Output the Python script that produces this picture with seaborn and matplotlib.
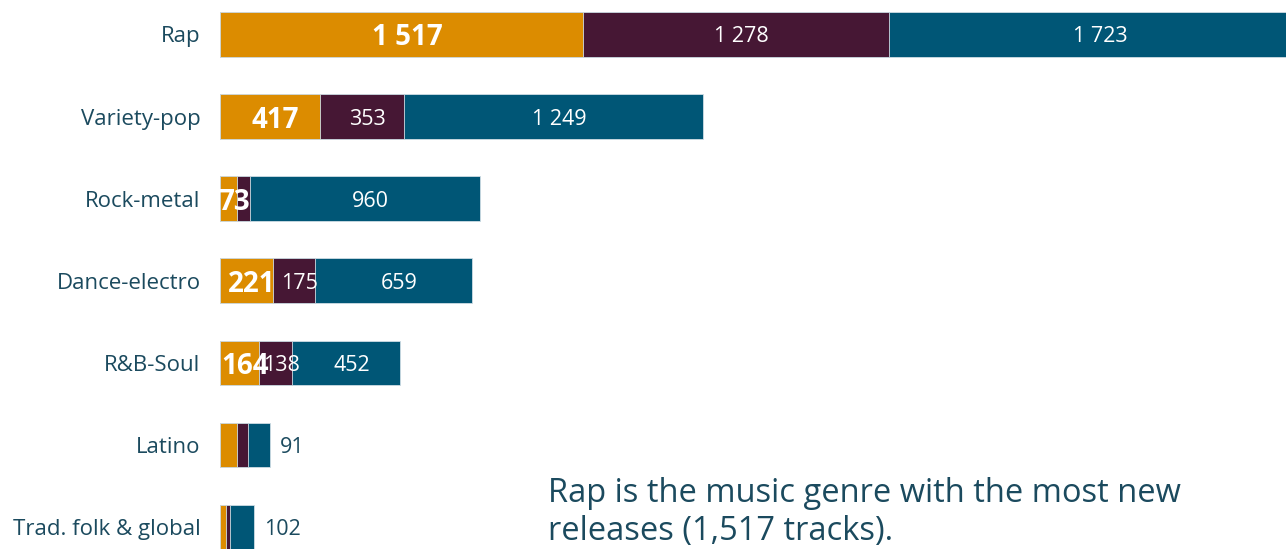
import matplotlib
matplotlib.use("Agg")
import matplotlib.pyplot as plt
import pandas as pd
import seaborn as sns

# values (tracks per genre, three stacked groups)
genres = ["Rap", "Variety-pop", "Rock-metal", "Dance-electro", "R&B-Soul", "Latino", "Trad. folk & global"]
group_1 = [1517, 417, 73, 221, 164, 70, 25]
group_2 = [1278, 353, 53, 175, 138, 47, 16]
group_3 = [1723, 1249, 960, 659, 452, 91, 102]

labels_1 = ["1 517", "417", "73", "221", "164", "", ""]
labels_2 = ["1 278", "353", "", "175", "138", "", ""]
labels_3 = ["1 723", "1 249", "960", "659", "452", "91", "102"]
outside_3 = [False, False, False, False, False, True, True]

note_lines = ["Rap is the music genre with the most new", "releases (1,517 tracks)."]

ORANGE = "#DC8C00"
PURPLE = "#461734"
TEAL = "#005676"
TEXT = "#1B4A5E"

df = pd.DataFrame({"genre": genres, "g1": group_1, "g2": group_2, "g3": group_3})
df["c2"] = df["g1"] + df["g2"]
df["c3"] = df["c2"] + df["g3"]

sns.set_style("white")
plt.rcParams["font.family"] = ["Open Sans", "DejaVu Sans"]

fig = plt.figure(figsize=(12.86, 5.49), dpi=100)
ax = fig.add_axes([220 / 1286, 0, 1 - 220 / 1286, 1])

for col, color in [("c3", TEAL), ("c2", PURPLE), ("g1", ORANGE)]:
    sns.barplot(data=df, y="genre", x=col, color=color, orient="h", width=0.54,
                saturation=1, errorbar=None, edgecolor="#cfdde4", linewidth=0.6, ax=ax)

def seg_label(x, y, s, **kw):
    # labels in the reference sit a few pixels right of the segment centre
    ax.annotate(s, (x, y), xytext=(4, 0), textcoords="offset points",
                ha="center", va="center_baseline", color="white", **kw)

for i in range(len(genres)):
    a, b, c = group_1[i], group_2[i], group_3[i]
    if labels_2[i]:
        seg_label(a + b / 2, i, labels_2[i], fontsize=15.5, zorder=5)
    if labels_1[i]:
        # bold orange labels are drawn last, on top (as in the original slide)
        if a < 100:
            ax.annotate(labels_1[i], (0, i), xytext=(-1, 0), textcoords="offset points",
                        ha="left", va="center_baseline", color="white",
                        fontsize=20, fontweight="bold", zorder=6)
        else:
            seg_label(a / 2, i, labels_1[i], fontsize=20, fontweight="bold", zorder=6)
    if outside_3[i]:
        ax.annotate(labels_3[i], (a + b + c, i), xytext=(7, 0), textcoords="offset points",
                    ha="left", va="center_baseline", color=TEXT, fontsize=15.5)
    else:
        seg_label(a + b + c / 2, i, labels_3[i], fontsize=15.5)

ax.set_xlim(0, 4455)
ax.set_ylim(6.27, -0.42)
ax.set_xlabel("")
ax.set_ylabel("")
ax.set_xticks([])
ax.tick_params(axis="y", length=0, pad=14, labelsize=16, labelcolor=TEXT)
sns.despine(ax=ax, left=True, bottom=True)

for k, line in enumerate(note_lines):
    fig.text(548 / 1286, 1 - (502 + 38 * k) / 549, line, ha="left", va="baseline",
             color=TEXT, fontsize=23.5)

fig.savefig("out.png", dpi=100)
